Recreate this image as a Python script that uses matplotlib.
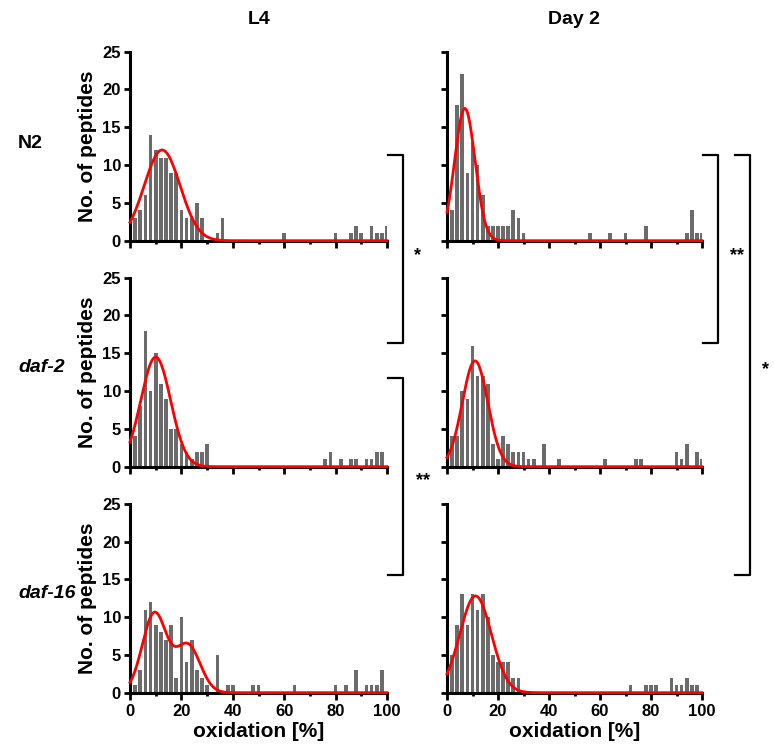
import matplotlib
matplotlib.use("Agg")
import matplotlib.pyplot as plt
import numpy as np
from matplotlib.lines import Line2D

plt.rcParams['font.family'] = ['Liberation Sans', 'DejaVu Sans']
plt.rcParams['font.weight'] = 'bold'

# ---------------- data (bin centers in % oxidation, counts) ----------------
L4_N2_x = [2, 4, 6, 8, 10, 12, 14, 16, 18, 20, 22, 24, 26, 28, 34, 36, 60, 80, 86, 88, 90, 94, 96, 98, 100]
L4_N2_n = [3, 4, 6, 14, 12, 11, 11, 9, 9, 4, 3, 3, 5, 3, 1, 3, 1, 1, 1, 2, 1, 2, 1, 1, 2]

L4_daf2_x = [2, 4, 6, 8, 10, 12, 14, 16, 18, 20, 22, 24, 26, 28, 30, 76, 78, 82, 86, 88, 92, 94, 96, 98]
L4_daf2_n = [4, 8, 18, 10, 15, 11, 9, 5, 5, 3, 2, 1, 2, 2, 3, 1, 2, 1, 1, 1, 1, 1, 2, 2]

L4_daf16_x = [2, 4, 6, 8, 10, 12, 14, 16, 18, 20, 22, 24, 26, 28, 30, 34, 38, 40, 48, 50, 64, 80, 84, 88, 92, 94, 96, 98]
L4_daf16_n = [1, 3, 11, 12, 9, 8, 7, 9, 2, 10, 4, 7, 3, 2, 1, 5, 1, 1, 1, 1, 1, 1, 1, 3, 1, 1, 1, 3]

D2_N2_x = [2, 4, 6, 8, 10, 12, 14, 16, 18, 20, 22, 24, 26, 28, 30, 56, 64, 70, 78, 94, 96, 98, 100]
D2_N2_n = [4, 18, 22, 9, 13, 10, 6, 2, 2, 2, 2, 2, 4, 3, 1, 1, 1, 1, 2, 1, 4, 1, 1]

D2_daf2_x = [2, 4, 6, 8, 10, 12, 14, 16, 18, 20, 22, 24, 26, 28, 30, 32, 34, 38, 44, 62, 74, 76, 90, 92, 94, 98, 100]
D2_daf2_n = [4, 4, 10, 9, 16, 12, 12, 11, 3, 1, 4, 3, 2, 2, 2, 1, 1, 3, 1, 1, 1, 1, 2, 1, 3, 2, 1]

D2_daf16_x = [2, 4, 6, 8, 10, 12, 14, 16, 18, 20, 22, 24, 26, 28, 72, 78, 80, 82, 88, 90, 92, 94, 96, 98]
D2_daf16_n = [5, 9, 13, 9, 13, 11, 13, 10, 5, 4, 4, 4, 2, 2, 1, 1, 1, 1, 2, 1, 1, 2, 1, 1]

# Gaussian fit parameters: lists of (amplitude, mean, sd)
L4_N2_fit = [(12.0, 12.5, 7.0)]
L4_daf2_fit = [(14.5, 10.0, 5.8)]
L4_daf16_fit = [(10.5, 9.5, 4.7), (6.3, 22.5, 4.8)]
D2_N2_fit = [(17.5, 7.0, 4.0)]
D2_daf2_fit = [(14.0, 11.0, 5.0)]
D2_daf16_fit = [(12.8, 11.2, 6.2)]

col_titles = ["L4", "Day 2"]
row_labels = ["N2", "daf-2", "daf-16"]
xlabel = "oxidation [%]"
ylabel = "No. of peptides"

panels = [
    [(L4_N2_x, L4_N2_n, L4_N2_fit), (D2_N2_x, D2_N2_n, D2_N2_fit)],
    [(L4_daf2_x, L4_daf2_n, L4_daf2_fit), (D2_daf2_x, D2_daf2_n, D2_daf2_fit)],
    [(L4_daf16_x, L4_daf16_n, L4_daf16_fit), (D2_daf16_x, D2_daf16_n, D2_daf16_fit)],
]

# ---------------- layout ----------------
W, H = 774, 753
fig = plt.figure(figsize=(W / 100, H / 100), dpi=100)

col_px = [(130, 387), (447, 702)]
row_px = [(51.7, 240.7), (277.7, 466.7), (503.7, 692.7)]


def fx(px):
    return px / W


def fy(py):
    return 1 - py / H


bar_color = "#6b6b6b"
for r in range(3):
    for c in range(2):
        x0, x1 = col_px[c]
        yt, yb = row_px[r]
        ax = fig.add_axes([fx(x0), fy(yb), (x1 - x0) / W, (yb - yt) / H])
        bx, bn, fit = panels[r][c]
        ax.bar(bx, bn, width=1.45, color=bar_color, zorder=2)
        xs = np.linspace(0, 100, 600)
        ys = np.zeros_like(xs)
        for (a, m, s) in fit:
            ys += a * np.exp(-(xs - m) ** 2 / (2 * s ** 2))
        ax.plot(xs, ys, color="#ff0000", lw=2.0, zorder=3, clip_on=False)
        ax.set_xlim(0, 100)
        ax.set_ylim(0, 25)
        for s in ["top", "right"]:
            ax.spines[s].set_visible(False)
        for s in ["left", "bottom"]:
            ax.spines[s].set_linewidth(2.2)
        ax.set_xticks([0, 20, 40, 60, 80, 100])
        ax.set_xticks([10, 30, 50, 70, 90], minor=True)
        ax.set_yticks([0, 5, 10, 15, 20, 25])
        ax.tick_params(axis="x", which="major", length=5, width=2.0, direction="out")
        ax.tick_params(axis="x", which="minor", length=2.5, width=2.0, direction="out")
        ax.tick_params(axis="y", which="major", length=4.5, width=2.0, direction="out",
                       labelsize=12, pad=2)
        ax.tick_params(axis="x", labelsize=12, pad=3)
        if r < 2:
            ax.set_xticklabels([])
        else:
            ax.set_xlabel(xlabel, fontsize=15, fontweight="bold", labelpad=2)
        if c == 1:
            ax.set_yticklabels([])
        else:
            ax.set_ylabel(ylabel, fontsize=15, fontweight="bold", labelpad=4)
        ax.patch.set_alpha(0)

# column titles
fig.text(fx(259), fy(20), col_titles[0], fontsize=14, fontweight="bold", ha="center", va="center")
fig.text(fx(574), fy(20), col_titles[1], fontsize=14, fontweight="bold", ha="center", va="center")

# row labels
fig.text(fx(18), fy(143), row_labels[0], fontsize=14, fontweight="bold", ha="left", va="center")
fig.text(fx(18), fy(368), row_labels[1], fontsize=14, fontweight="bold", style="italic", ha="left", va="center")
fig.text(fx(18), fy(594), row_labels[2], fontsize=14, fontweight="bold", style="italic", ha="left", va="center")


# significance brackets
def bracket(xl, xr, yt, yb, label, lx, ly):
    fig.add_artist(Line2D([fx(xl), fx(xr), fx(xr), fx(xl)], [fy(yt), fy(yt), fy(yb), fy(yb)],
                          color="black", lw=1.6, transform=fig.transFigure))
    fig.text(fx(lx), fy(ly), label, fontsize=13, fontweight="bold", ha="center", va="center")


bracket(388, 403, 155, 343, "*", 418, 256)
bracket(388, 403, 378, 575, "**", 423, 481)
bracket(703, 718, 155, 343, "**", 737, 256)
bracket(735, 750, 155, 575, "*", 766, 370)

fig.savefig("out.png", dpi=100)
